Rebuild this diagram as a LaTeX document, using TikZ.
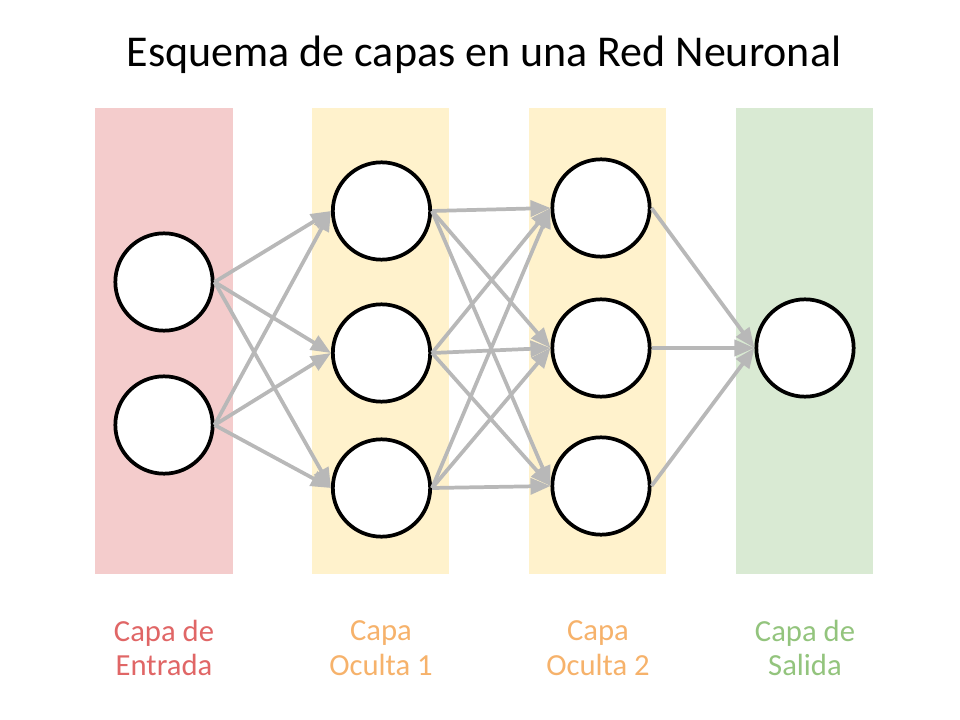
\documentclass[tikz,border=0pt]{standalone}
\usepackage{fontspec}
\setmainfont{Carlito}
\usetikzlibrary{arrows.meta}
\definecolor{redbg}{RGB}{244,204,204}
\definecolor{yelbg}{RGB}{255,242,204}
\definecolor{grnbg}{RGB}{217,234,211}
\definecolor{redtx}{RGB}{224,102,102}
\definecolor{orgtx}{RGB}{246,178,107}
\definecolor{grntx}{RGB}{147,196,125}
\definecolor{arrgray}{RGB}{184,184,184}
\begin{document}
\begin{tikzpicture}[x=0.75pt,y=-0.75pt,
  neuron/.style={circle,draw=black,line width=2.8pt,fill=white,minimum size=73pt,inner sep=0pt},
  conn/.style={draw=arrgray,line width=2.8pt,-{Triangle[length=15pt,width=12pt]}},
  lbl/.style={align=center,font=\fontsize{23}{26}\selectfont}]
\useasboundingbox (0,0) rectangle (960,720);
\fill[redbg] (95,108) rectangle (233,574);
\fill[yelbg] (312,108) rectangle (449,574);
\fill[yelbg] (529,108) rectangle (666,574);
\fill[grnbg] (736,108) rectangle (873,574);
\node[font=\fontsize{33}{39}\selectfont] (title) at (484,55) {Esquema de capas en una Red Neuronal};
\node[neuron] (i1) at (164,282) {};
\node[neuron] (i2) at (164,425) {};
\node[neuron] (a1) at (381.5,211) {};
\node[neuron] (a2) at (381.5,353) {};
\node[neuron] (a3) at (381.5,488) {};
\node[neuron] (b1) at (601,208) {};
\node[neuron] (b2) at (601,348) {};
\node[neuron] (b3) at (601,486) {};
\node[neuron] (o1) at (805,348) {};
\foreach \s in {i1,i2}{\foreach \t in {a1,a2,a3}{\draw[conn] (\s.east) -- (\t.west);}}
\foreach \s in {a1,a2,a3}{\foreach \t in {b1,b2,b3}{\draw[conn] (\s.east) -- (\t.west);}}
\foreach \s in {b1,b2,b3}{\draw[conn] (\s.east) -- (o1.west);}
\node[lbl,text=redtx] (l1) at (164,648) {Capa de\\Entrada};
\node[lbl,text=orgtx] (l2) at (381,648) {Capa\\Oculta 1};
\node[lbl,text=orgtx] (l3) at (598,648) {Capa\\Oculta 2};
\node[lbl,text=grntx] (l4) at (805,648) {Capa de\\Salida};
\end{tikzpicture}
\end{document}
